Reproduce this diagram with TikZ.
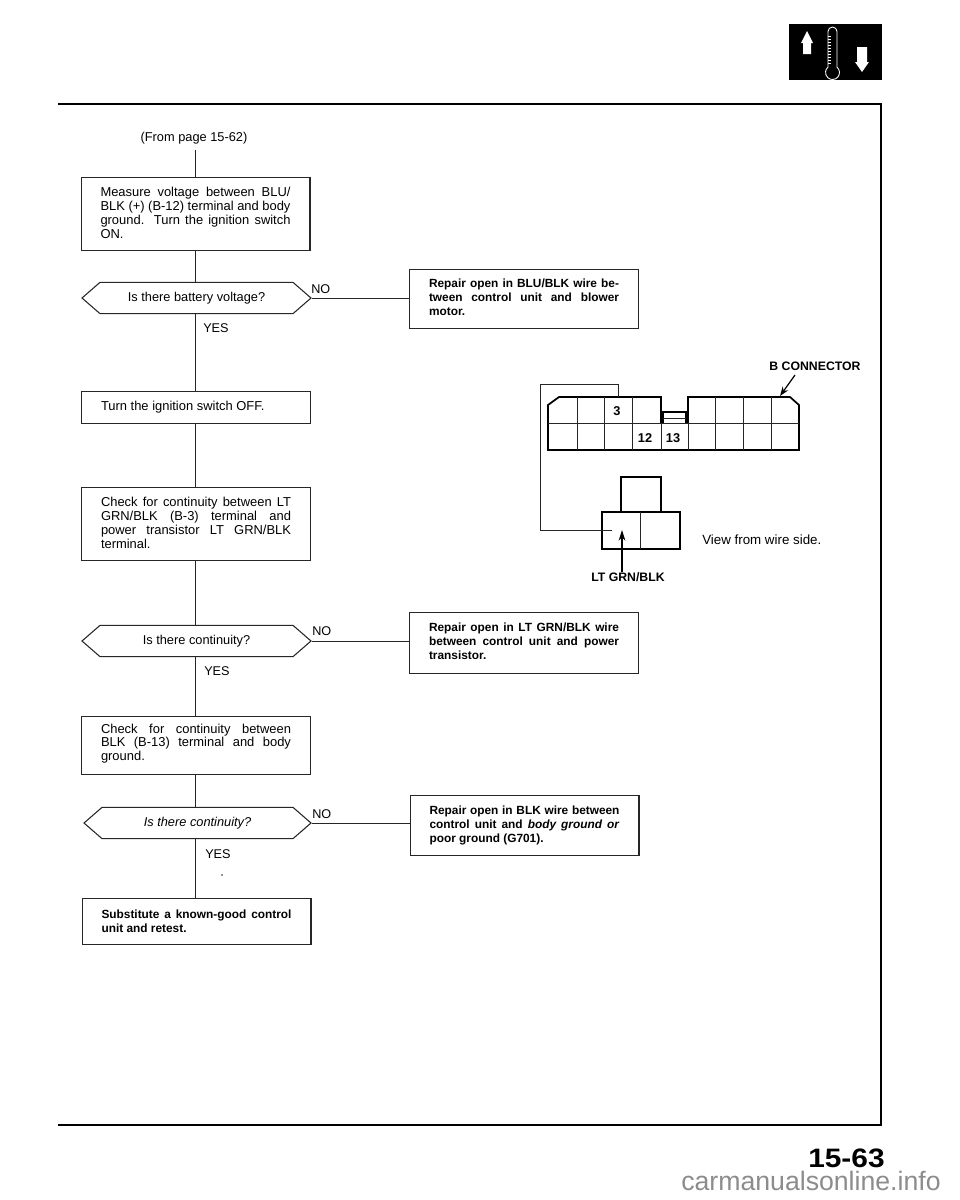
\documentclass[tikz,border=0pt]{standalone}
\usepackage{fontspec}
\setmainfont{Liberation Sans}
\usetikzlibrary{arrows.meta,shapes.symbols}
\definecolor{ink}{gray}{0.15}
\tolerance=9999
\hbadness=10000
\hfuzz=20pt
\newcommand{\liftup}[1]{\par\vspace{#1pt}}
\tikzset{x=0.75pt,y=-0.75pt,
 flowline/.style={draw=ink,line width=0.75pt},
 frameline/.style={draw=black,line width=1.2pt},
 thinline/.style={draw=ink,line width=0.6pt},
 shellline/.style={draw=black,line width=1.3pt},
 stepbox/.style={draw=ink,line width=0.8pt,anchor=north west,inner ysep=0pt,inner xsep=14.6pt,text width=142.5pt,
   align=justify,text=black,font=\fontsize{9.7}{10.4}\selectfont},
 boldbox/.style={stepbox,font=\fontsize{8.9}{10.4}\bfseries\selectfont},
 question/.style={draw=ink,line width=0.8pt,shape=signal,signal to=east and west,signal pointer angle=82,
   inner sep=0pt,minimum height=23.5pt,text=black,font=\fontsize{9.6}{10.4}\selectfont},
 answer/.style={anchor=base west,inner sep=0pt,text=black,font=\fontsize{9.5}{10.4}\selectfont},
 pinlabel/.style={inner sep=0pt,text=black,font=\fontsize{9.6}{10.4}\bfseries\selectfont},
 taglabel/.style={inner sep=0pt,text=black,font=\fontsize{9.2}{10.4}\bfseries\selectfont},
}
\begin{document}
\begin{tikzpicture}
\useasboundingbox (0,0) rectangle (960,1200);
% frame
\coordinate (ftl) at (58,104);
\coordinate (ftr) at (881,104);
\coordinate (fbr) at (881,1125);
\coordinate (fbl) at (58,1125);
\draw[frameline] (ftl) -- (ftr) -- (fbr) -- (fbl);
% icon
\fill[black] (789,24) rectangle (882,80);
\fill[white] (801,43) -- (807,31) -- (813,43) -- (811,43) -- (811,54) -- (803,54) -- (803,43) -- cycle;
\draw[white,line width=0.65pt] (837,67.14) arc[start angle=50,end angle=-230,radius=5.25pt] -- (828,31.5) arc[start angle=180,end angle=0,radius=3.375pt] -- cycle;
\foreach \ty in {36,39,...,63} \draw[white,line width=0.35pt] (828,\ty) -- (831,\ty);
\fill[white] (857,47) -- (867,47) -- (867,62) -- (869,62) -- (862,72) -- (855,62) -- (857,62) -- cycle;
% flow nodes
\coordinate (wire) at (195.5,0);
\node[inner sep=0pt,text=black,font=\fontsize{9.6}{10.4}\selectfont] (from) at (194,138) {(From page 15-62)};
\node[stepbox,minimum height=73*0.75pt] (b1) at (80.5,177) {Measure voltage between BLU/\linebreak BLK (+) (B-12) terminal and body\linebreak ground. Turn the ignition switch\linebreak ON.\liftup{1.5}};
\node[question,minimum width=229*0.75pt] (q1) at (196.5,298) {Is there battery voltage?};
\node[stepbox,minimum height=32*0.75pt] (b2) at (81,391) {Turn the ignition switch OFF.};
\node[stepbox,minimum height=73*0.75pt] (b3) at (81,487) {Check for continuity between LT\linebreak GRN/BLK (B-3) terminal and\linebreak power transistor LT GRN/BLK\linebreak terminal.\liftup{1.5}};
\node[question,minimum width=229*0.75pt] (q2) at (196.5,641) {Is there continuity?};
\node[stepbox,minimum height=58*0.75pt] (b4) at (81,716) {Check for continuity between\linebreak BLK (B-13) terminal and body\linebreak ground.\liftup{3}};
\node[question,minimum width=227*0.75pt,font=\fontsize{9.6}{10.4}\itshape\selectfont] (q3) at (197.5,823) {Is there continuity?};
\node[boldbox,minimum height=46*0.75pt] (b5) at (81.5,898) {Substitute a known-good control\linebreak unit and retest.};
\node[boldbox,minimum height=59*0.75pt] (r1) at (409,269) {Repair open in BLU/BLK wire be-\linebreak tween control unit and blower\linebreak motor.\liftup{2.5}};
\node[boldbox,minimum height=61*0.75pt] (r2) at (409,612) {Repair open in LT GRN/BLK wire\linebreak between control unit and power\linebreak transistor.\liftup{3}};
\node[boldbox,minimum height=60*0.75pt] (r3) at (409.5,795) {Repair open in BLK wire between\linebreak control unit and \textit{body ground or}\linebreak poor ground (G701).};
% answers
\node[answer] (no1) at (311,293) {NO};
\node[answer] (yes1) at (203,332) {YES};
\node[answer] (no2) at (312,635) {NO};
\node[answer] (yes2) at (204,675) {YES};
\node[answer] (no3) at (312,818) {NO};
\node[answer] (yes3) at (205,858) {YES};
\fill[ink] (222,875) circle[radius=0.6pt];
% flow connectors
\coordinate (fromend) at (195.5,150);
\draw[flowline] (fromend) -- (b1.north -| wire);
\draw[flowline] (b1.south -| wire) -- (q1.north -| wire);
\draw[flowline] (q1.south -| wire) -- (b2.north -| wire);
\draw[flowline] (b2.south -| wire) -- (b3.north -| wire);
\draw[flowline] (b3.south -| wire) -- (q2.north -| wire);
\draw[flowline] (q2.south -| wire) -- (b4.north -| wire);
\draw[flowline] (b4.south -| wire) -- (q3.north -| wire);
\draw[flowline] (q3.south -| wire) -- (b5.north -| wire);
\draw[flowline] (q1.east) -- (q1.east -| r1.west);
\draw[flowline] (q2.east) -- (q2.east -| r2.west);
\draw[flowline] (q3.east) -- (q3.east -| r3.west);
% B connector
\draw[shellline,line join=miter] (661,423) -- (661,397) -- (559,397) -- (548,405) -- (548,450) -- (799,450) -- (799,405) -- (790,397) -- (688,397) -- (688,423);
\draw[thinline] (548,423) -- (799,423);
\foreach \vx in {577,604,632,715,743,771} \draw[thinline] (\vx,397) -- (\vx,450);
\foreach \vx in {661,688} \draw[thinline] (\vx,423) -- (\vx,450);
\draw[line width=1pt,draw=black] (663,423) -- (663,412) -- (686,412) -- (686,423);
\draw[thinline] (663,418) -- (686,418);
\node[pinlabel] (p3) at (617,411) {3};
\node[pinlabel] (p12) at (645,438) {12};
\node[pinlabel] (p13) at (673,438) {13};
\node[taglabel] (bc) at (815,366) {B CONNECTOR};
\coordinate (bcs) at (795,375);
\coordinate (bct) at (780,396);
\draw[line width=0.9pt,draw=black,-{Stealth[length=7pt,width=5pt]}] (bcs) -- (bct);
% small connector
\draw[shellline,line join=miter] (621,512) -- (621,477) -- (661,477) -- (661,512);
\draw[shellline,line join=miter] (602,512) rectangle (680,549);
\draw[thinline] (640,512) -- (640,549);
\node[taglabel] (lt) at (628,577) {LT GRN/BLK};
\node[inner sep=0pt,anchor=base west,text=black,font=\fontsize{10}{11}\selectfont] (view) at (702,544) {View from wire side.};
\coordinate (arrowtip) at (622,530);
\draw[line width=0.9pt,draw=black,-{Stealth[length=8pt,width=5pt]}] (lt.north -| arrowtip) -- (arrowtip);
% wire between connectors
\coordinate (w1) at (618,397);
\coordinate (w2) at (618,384);
\coordinate (w3) at (540,384);
\coordinate (w4) at (540,530);
\coordinate (w5) at (612,530);
\draw[thinline] (w1) -- (w2) -- (w3) -- (w4) -- (w5);
% page number and source line
\node[inner sep=0pt,anchor=base west,text=black,font=\fontsize{20}{22}\bfseries\selectfont] (page) at (808,1167) {\scalebox{1.12}[1]{15-63}};
\node[inner sep=0pt,anchor=base west,text=black!45,font=\fontsize{20}{22}\selectfont] (src) at (681,1190) {carmanualsonline.info};
\end{tikzpicture}
\end{document}
